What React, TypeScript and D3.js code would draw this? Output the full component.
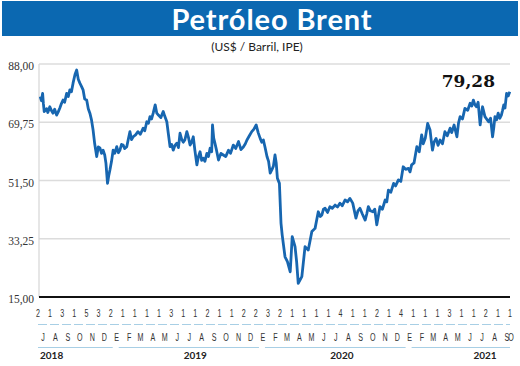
import React, { useEffect, useRef } from 'react';
import * as d3 from 'd3';

// Brent, US$ per barrel
const brent: [string, number][] = [
  ['2018-07-09', 77.8], ['2018-07-12', 76.5], ['2018-07-15', 78.8], ['2018-07-17', 75.5], ['2018-07-19', 73.1],
  ['2018-07-22', 73.5], ['2018-07-25', 74.0], ['2018-07-28', 72.8], ['2018-08-02', 74.6], ['2018-08-06', 73.4],
  ['2018-08-10', 72.6], ['2018-08-14', 73.8], ['2018-08-19', 72.0], ['2018-08-23', 73.0], ['2018-08-27', 74.2],
  ['2018-08-31', 75.6], ['2018-09-04', 76.7], ['2018-09-08', 76.0], ['2018-09-13', 78.8], ['2018-09-17', 77.8],
  ['2018-09-21', 79.9], ['2018-09-25', 79.3], ['2018-09-29', 82.0], ['2018-10-04', 84.8], ['2018-10-08', 86.1],
  ['2018-10-12', 83.2], ['2018-10-16', 82.0], ['2018-10-20', 81.0], ['2018-10-24', 79.9], ['2018-10-28', 77.0],
  ['2018-11-02', 76.7], ['2018-11-06', 74.0], ['2018-11-10', 72.6], ['2018-11-14', 70.5], ['2018-11-18', 67.3],
  ['2018-11-22', 63.0], ['2018-11-27', 59.0], ['2018-12-01', 62.0], ['2018-12-05', 61.7], ['2018-12-09', 60.0],
  ['2018-12-13', 61.0], ['2018-12-17', 59.5], ['2018-12-20', 57.0], ['2018-12-24', 50.6], ['2018-12-27', 53.0],
  ['2018-12-30', 54.8], ['2019-01-03', 57.5], ['2019-01-07', 61.0], ['2019-01-11', 60.0], ['2019-01-16', 62.1],
  ['2019-01-20', 60.2], ['2019-01-24', 61.0], ['2019-01-28', 62.8], ['2019-02-01', 62.6], ['2019-02-05', 61.5],
  ['2019-02-10', 62.1], ['2019-02-14', 64.5], ['2019-02-18', 66.8], ['2019-02-22', 64.3], ['2019-02-26', 65.2],
  ['2019-03-04', 65.8], ['2019-03-10', 66.8], ['2019-03-16', 66.0], ['2019-03-23', 67.9], ['2019-03-27', 67.1],
  ['2019-04-01', 69.9], ['2019-04-05', 69.4], ['2019-04-09', 71.5], ['2019-04-13', 70.8], ['2019-04-17', 72.6],
  ['2019-04-22', 75.2], ['2019-04-26', 72.6], ['2019-04-30', 72.0], ['2019-05-06', 71.2], ['2019-05-12', 73.1],
  ['2019-05-16', 71.6], ['2019-05-21', 69.9], ['2019-05-25', 66.0], ['2019-05-29', 62.1], ['2019-06-02', 62.8],
  ['2019-06-06', 61.0], ['2019-06-10', 62.4], ['2019-06-15', 63.2], ['2019-06-19', 61.8], ['2019-06-23', 66.3],
  ['2019-06-27', 64.5], ['2019-07-01', 63.5], ['2019-07-05', 64.2], ['2019-07-10', 66.8], ['2019-07-14', 65.0],
  ['2019-07-18', 62.6], ['2019-07-22', 63.5], ['2019-07-26', 65.2], ['2019-07-30', 61.0], ['2019-08-04', 56.4],
  ['2019-08-08', 59.0], ['2019-08-12', 60.5], ['2019-08-16', 57.8], ['2019-08-20', 58.5], ['2019-08-24', 57.5],
  ['2019-08-29', 60.0], ['2019-09-02', 59.0], ['2019-09-06', 61.6], ['2019-09-10', 60.5], ['2019-09-12', 68.9],
  ['2019-09-15', 64.8], ['2019-09-18', 63.2], ['2019-09-22', 61.0], ['2019-09-27', 57.9], ['2019-10-03', 60.0],
  ['2019-10-09', 59.5], ['2019-10-15', 59.0], ['2019-10-22', 61.0], ['2019-10-27', 60.0], ['2019-11-03', 62.6],
  ['2019-11-09', 61.5], ['2019-11-16', 63.7], ['2019-11-22', 61.2], ['2019-11-28', 62.0], ['2019-12-03', 63.0],
  ['2019-12-07', 64.2], ['2019-12-13', 65.5], ['2019-12-19', 66.8], ['2019-12-24', 67.5], ['2019-12-30', 68.9],
  ['2020-01-04', 66.5], ['2020-01-09', 64.7], ['2020-01-13', 63.5], ['2020-01-17', 64.2], ['2020-01-21', 62.0],
  ['2020-01-26', 59.0], ['2020-01-30', 57.5], ['2020-02-03', 53.8], ['2020-02-07', 54.8], ['2020-02-11', 56.0],
  ['2020-02-15', 59.5], ['2020-02-18', 57.0], ['2020-02-21', 52.2], ['2020-02-26', 50.6], ['2020-03-01', 38.1],
  ['2020-03-04', 34.4], ['2020-03-11', 27.6], ['2020-03-17', 26.1], ['2020-03-24', 22.9], ['2020-03-29', 33.9],
  ['2020-04-05', 30.8], ['2020-04-09', 26.0], ['2020-04-13', 19.3], ['2020-04-22', 21.4], ['2020-04-30', 30.8],
  ['2020-05-08', 29.7], ['2020-05-17', 35.5], ['2020-05-25', 36.5], ['2020-06-02', 41.7], ['2020-06-07', 40.2],
  ['2020-06-11', 40.7], ['2020-06-15', 42.5], ['2020-06-19', 42.8], ['2020-06-25', 41.5], ['2020-07-01', 43.3],
  ['2020-07-07', 42.8], ['2020-07-14', 43.8], ['2020-07-20', 43.2], ['2020-07-26', 44.4], ['2020-08-01', 43.6],
  ['2020-08-08', 45.4], ['2020-08-14', 44.8], ['2020-08-20', 45.9], ['2020-08-27', 44.4], ['2020-09-04', 39.7],
  ['2020-09-09', 42.0], ['2020-09-14', 42.8], ['2020-09-20', 41.0], ['2020-09-27', 39.1], ['2020-10-01', 41.0],
  ['2020-10-05', 43.3], ['2020-10-10', 42.0], ['2020-10-16', 41.7], ['2020-10-21', 42.5], ['2020-10-26', 37.6],
  ['2020-11-03', 43.3], ['2020-11-09', 42.5], ['2020-11-16', 45.4], ['2020-11-20', 44.8], ['2020-11-24', 48.5],
  ['2020-11-30', 47.8], ['2020-12-07', 50.6], ['2020-12-12', 49.8], ['2020-12-19', 51.7], ['2020-12-25', 51.2],
  ['2020-12-31', 55.8], ['2021-01-06', 55.0], ['2021-01-13', 55.3], ['2021-01-17', 54.2], ['2021-01-21', 56.4],
  ['2021-01-27', 57.0], ['2021-02-03', 62.1], ['2021-02-09', 60.5], ['2021-02-15', 65.8], ['2021-02-19', 63.0],
  ['2021-02-24', 64.7], ['2021-03-02', 69.4], ['2021-03-08', 67.3], ['2021-03-11', 64.0], ['2021-03-14', 61.0],
  ['2021-03-18', 63.5], ['2021-03-23', 64.7], ['2021-03-28', 62.5], ['2021-04-02', 64.2], ['2021-04-08', 63.0],
  ['2021-04-14', 66.8], ['2021-04-20', 65.5], ['2021-04-27', 67.9], ['2021-05-01', 66.5], ['2021-05-07', 68.9],
  ['2021-05-14', 65.2], ['2021-05-18', 69.5], ['2021-05-22', 71.5], ['2021-05-28', 70.8], ['2021-06-03', 74.1],
  ['2021-06-10', 73.5], ['2021-06-16', 75.7], ['2021-06-20', 74.8], ['2021-06-24', 76.7], ['2021-06-28', 75.2],
  ['2021-07-02', 74.6], ['2021-07-06', 76.0], ['2021-07-11', 68.9], ['2021-07-14', 72.0], ['2021-07-17', 74.6],
  ['2021-07-23', 71.5], ['2021-08-01', 69.9], ['2021-08-06', 71.0], ['2021-08-11', 65.2], ['2021-08-14', 68.0],
  ['2021-08-17', 71.5], ['2021-08-21', 70.5], ['2021-08-25', 72.6], ['2021-08-29', 71.0], ['2021-09-02', 72.0],
  ['2021-09-05', 73.5], ['2021-09-08', 75.2], ['2021-09-11', 74.2], ['2021-09-15', 78.8], ['2021-09-19', 78.0],
  ['2021-09-23', 79.28],
];

const yTicks = [15, 33.25, 51.5, 69.75, 88];
const monthLetters = ['J', 'A', 'S', 'O', 'N', 'D', 'E', 'F', 'M', 'A', 'M', 'J', 'J', 'A', 'S', 'O', 'N', 'D',
  'E', 'F', 'M', 'A', 'M', 'J', 'J', 'A', 'S', 'O', 'N', 'D', 'E', 'F', 'M', 'A', 'M', 'J', 'J', 'A', 'S', 'O'];
const weekDigits = ['2', '1', '3', '1', '5', '3', '2', '1', '1', '1', '1', '3', '1', '1', '2', '1', '1', '2', '2',
  '3', '2', '1', '1', '1', '1', '4', '1', '1', '2', '1', '4', '1', '1', '1', '3', '1', '1', '2', '1', '1'];
const years = ['2018', '2019', '2020', '2021'];
const lastLabel = '79,28';

const W = 520, H = 366;
const blue = '#0b68b1';

const App = () => {
  const svgRef = useRef<SVGSVGElement>(null);

  useEffect(() => {
    const svg = d3.select(svgRef.current);
    svg.selectAll('*').remove();

    const parse = d3.timeParse('%Y-%m-%d');
    const data = brent.map(([d, v]) => ({ date: parse(d) as Date, v }));

    const x = d3.scaleTime()
      .domain([new Date(2018, 6, 1), new Date(2021, 9, 1)])
      .range([37, 513]);
    const y = d3.scaleLinear().domain([15, 88]).range([297, 64]);
    const left = 39, right = 510;

    svg.append('rect').attr('width', W).attr('height', H).attr('fill', '#fff');

    // title bar
    svg.append('rect').attr('x', 2).attr('y', 1).attr('width', 516).attr('height', 35).attr('fill', blue);
    svg.append('text').attr('x', 272).attr('y', 30).attr('text-anchor', 'middle')
      .attr('font-family', 'Lato, sans-serif').attr('font-weight', 'bold').attr('font-size', 29)
      .attr('letter-spacing', 0.9).attr('fill', '#fff').text('Petróleo Brent');
    svg.append('text').attr('x', 257).attr('y', 51).attr('text-anchor', 'middle')
      .attr('font-family', 'Lato, sans-serif').attr('font-size', 12).attr('fill', '#222')
      .text('(US$ / Barril, IPE)');

    // grid
    svg.append('g').selectAll('line').data(yTicks.slice(1)).enter().append('line')
      .attr('x1', left).attr('x2', right)
      .attr('y1', d => y(d)).attr('y2', d => y(d))
      .attr('stroke', '#dcdcdc').attr('stroke-width', 1.5);
    svg.append('line').attr('x1', left).attr('x2', left).attr('y1', y(88)).attr('y2', y(15))
      .attr('stroke', '#d6d6d6').attr('stroke-width', 1.2);

    svg.append('g').selectAll('text').data(yTicks).enter().append('text')
      .attr('x', 34).attr('y', d => y(d) + 6).attr('text-anchor', 'end')
      .attr('font-family', '"Liberation Serif", serif').attr('font-size', 11.5).attr('fill', '#333')
      .text(d => d3.format('.2f')(d).replace('.', ','));

    // line
    const line = d3.line<{ date: Date; v: number }>().x(d => x(d.date)).y(d => y(d.v));
    svg.append('path').datum(data).attr('d', line).attr('fill', 'none')
      .attr('stroke', '#1766b0').attr('stroke-width', 2.8).attr('stroke-linejoin', 'round');

    // bottom axis
    svg.append('line').attr('x1', left).attr('x2', right).attr('y1', y(15)).attr('y2', y(15))
      .attr('stroke', '#111').attr('stroke-width', 2);

    svg.append('text').attr('x', 495).attr('y', 87).attr('text-anchor', 'end')
      .attr('font-family', '"DejaVu Serif", serif').attr('font-weight', 'bold').attr('font-size', 17)
      .attr('fill', '#111').text(lastLabel);

    // month rows
    const months = d3.timeMonths(new Date(2018, 6, 1), new Date(2021, 10, 1));
    const mid = (m: Date) => x(d3.timeDay.offset(m, 15));
    const digitStep = (right - 38) / (weekDigits.length - 1);

    const cond = (g: any, txt: string, cx: number, cy: number) => {
      g.append('text').attr('transform', `translate(${cx},${cy}) scale(0.62,1)`)
        .attr('text-anchor', 'middle').attr('font-family', '"Liberation Sans", sans-serif')
        .attr('font-size', 11.5).attr('fill', '#333').text(txt);
    };
    const gd = svg.append('g');
    weekDigits.forEach((t, i) => cond(gd, t, 38 + i * digitStep, 317));
    const gm = svg.append('g');
    monthLetters.forEach((t, i) => cond(gm, t, Math.min(mid(months[i]), 511), 341));

    svg.append('line').attr('x1', 38).attr('x2', right).attr('y1', 324.5).attr('y2', 324.5)
      .attr('stroke', '#a8cfe5').attr('stroke-width', 1.2).attr('stroke-dasharray', '9,3');

    // year underlines and labels
    years.forEach((yr, i) => {
      const y0 = new Date(+yr, 0, 1), y1 = new Date(+yr + 1, 0, 1);
      const a = i === 0 ? 38 : x(y0) + 8;
      const b = Math.min(x(y1) + 2, right);
      svg.append('line').attr('x1', a).attr('x2', b).attr('y1', 347.5).attr('y2', 347.5)
        .attr('stroke', '#a8cfe5').attr('stroke-width', 1.2);
      const cx = i === 0 ? 40 : i === 3 ? 485 : x(new Date(+yr, 6, 1)) + 12;
      svg.append('text').attr('x', cx).attr('y', 359).attr('text-anchor', i === 0 ? 'start' : 'middle')
        .attr('font-family', 'Lato, sans-serif').attr('font-weight', 'bold').attr('font-size', 10)
        .attr('fill', '#222').text(yr);
    });
  }, []);

  return (
    <svg ref={svgRef} width={W} height={H}
      style={{ position: 'absolute', left: 0, top: 0, display: 'block' }} />
  );
};

export default App;
